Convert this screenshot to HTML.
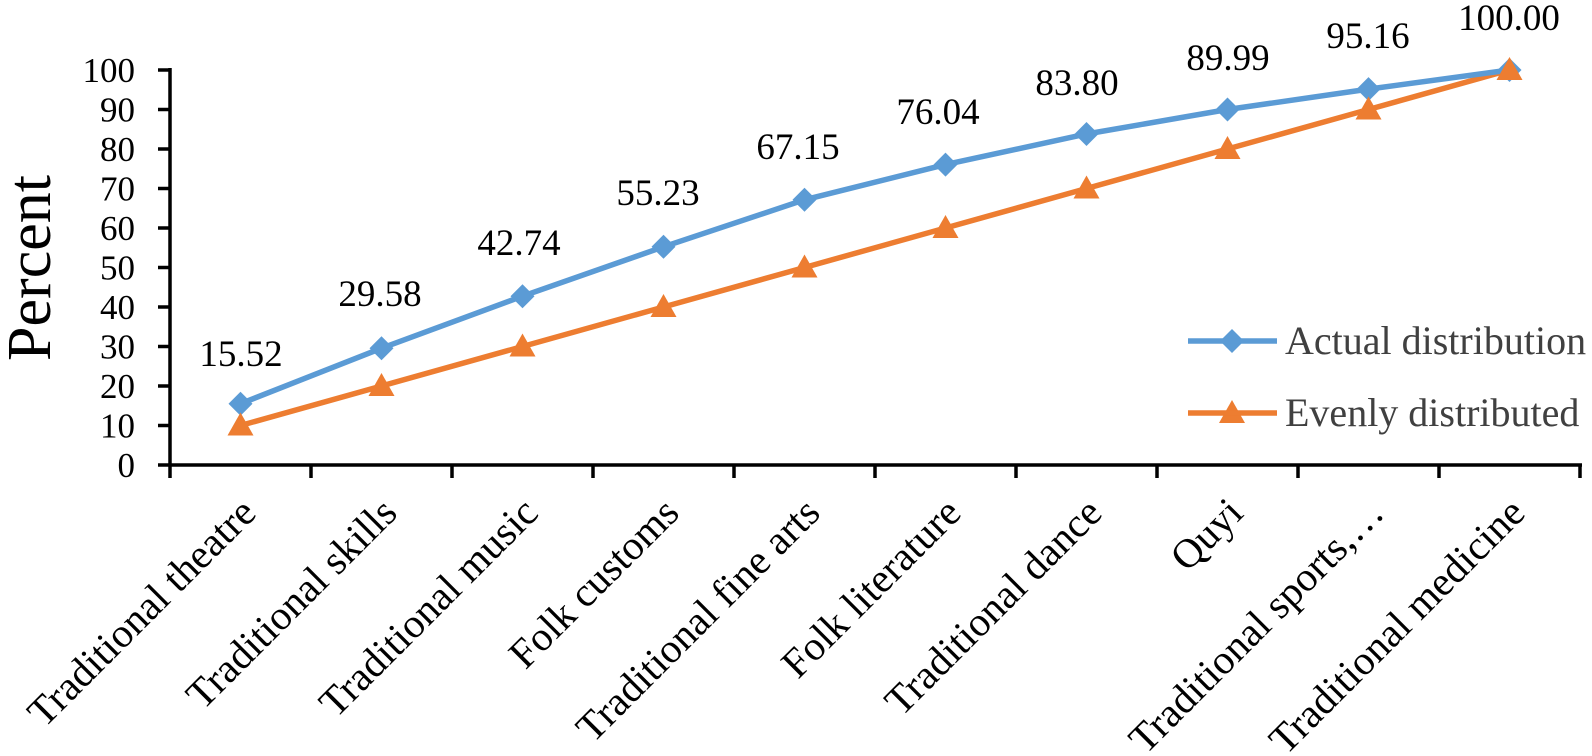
<!DOCTYPE html>
<html><head><meta charset="utf-8"><style>
html,body{margin:0;padding:0;background:#fff;}
svg{display:block;}
text{font-family:"Liberation Serif",serif;}
</style></head><body>
<svg width="1592" height="756" viewBox="0 0 1592 756" xmlns="http://www.w3.org/2000/svg">
<g stroke="#000" stroke-width="3.5">
<line x1="170" y1="68" x2="170" y2="466"/>
<line x1="158" y1="465" x2="1582" y2="465"/>
<line x1="158" y1="70" x2="170" y2="70"/><line x1="158" y1="109.5" x2="170" y2="109.5"/><line x1="158" y1="149" x2="170" y2="149"/><line x1="158" y1="188.5" x2="170" y2="188.5"/><line x1="158" y1="228" x2="170" y2="228"/><line x1="158" y1="267.5" x2="170" y2="267.5"/><line x1="158" y1="307" x2="170" y2="307"/><line x1="158" y1="346.5" x2="170" y2="346.5"/><line x1="158" y1="386" x2="170" y2="386"/><line x1="158" y1="425.5" x2="170" y2="425.5"/>
<line x1="170" y1="465" x2="170" y2="478"/><line x1="311" y1="465" x2="311" y2="478"/><line x1="452" y1="465" x2="452" y2="478"/><line x1="593" y1="465" x2="593" y2="478"/><line x1="734" y1="465" x2="734" y2="478"/><line x1="875" y1="465" x2="875" y2="478"/><line x1="1016" y1="465" x2="1016" y2="478"/><line x1="1157" y1="465" x2="1157" y2="478"/><line x1="1298" y1="465" x2="1298" y2="478"/><line x1="1439" y1="465" x2="1439" y2="478"/><line x1="1580" y1="465" x2="1580" y2="478"/>
</g>
<g font-size="35" text-anchor="end" fill="#000">
<text x="135" y="82">100</text><text x="135" y="121.5">90</text><text x="135" y="161">80</text><text x="135" y="200.5">70</text><text x="135" y="240">60</text><text x="135" y="279.5">50</text><text x="135" y="319">40</text><text x="135" y="358.5">30</text><text x="135" y="398">20</text><text x="135" y="437.5">10</text><text x="135" y="477">0</text>
</g>
<text transform="translate(50,268) rotate(-90)" font-size="62" text-anchor="middle">Percent</text>
<polyline fill="none" stroke="#ED7D31" stroke-width="5.5" points="240.5,425.5 381.5,386 522.5,346.5 663.5,307 804.5,267.5 945.5,228 1086.5,188.5 1227.5,149 1368.5,109.5 1509.5,70"/>
<polyline fill="none" stroke="#5B9BD5" stroke-width="5.5" points="240.5,403.7 381.5,348.2 522.5,296.2 663.5,246.8 804.5,199.8 945.5,164.6 1086.5,134 1227.5,109.5 1368.5,89.1 1509.5,70"/>
<g fill="#5B9BD5">
<path d="M240.5,391.7 l12,12 -12,12 -12,-12z"/><path d="M381.5,336.2 l12,12 -12,12 -12,-12z"/><path d="M522.5,284.2 l12,12 -12,12 -12,-12z"/><path d="M663.5,234.8 l12,12 -12,12 -12,-12z"/><path d="M804.5,187.8 l12,12 -12,12 -12,-12z"/><path d="M945.5,152.6 l12,12 -12,12 -12,-12z"/><path d="M1086.5,122 l12,12 -12,12 -12,-12z"/><path d="M1227.5,97.5 l12,12 -12,12 -12,-12z"/><path d="M1368.5,77.1 l12,12 -12,12 -12,-12z"/><path d="M1509.5,58 l12,12 -12,12 -12,-12z"/>
<path d="M1232,329 l12,12 -12,12 -12,-12z"/>
</g>
<g fill="#ED7D31">
<path d="M240.5,412.5 l13,23 h-26z"/><path d="M381.5,373 l13,23 h-26z"/><path d="M522.5,333.5 l13,23 h-26z"/><path d="M663.5,294 l13,23 h-26z"/><path d="M804.5,254.5 l13,23 h-26z"/><path d="M945.5,215 l13,23 h-26z"/><path d="M1086.5,175.5 l13,23 h-26z"/><path d="M1227.5,136 l13,23 h-26z"/><path d="M1368.5,96.5 l13,23 h-26z"/><path d="M1509.5,57 l13,23 h-26z"/>
<path d="M1232,400 l13,23 h-26z"/>
</g>
<line x1="1188" y1="341" x2="1277" y2="341" stroke="#5B9BD5" stroke-width="5.5"/>
<line x1="1188" y1="413" x2="1277" y2="413" stroke="#ED7D31" stroke-width="5.5"/>
<g font-size="40" fill="#404040">
<text x="1285" y="354">Actual distribution</text>
<text x="1285" y="426">Evenly distributed</text>
</g>
<g font-size="37" text-anchor="middle" fill="#000">
<text x="241" y="366">15.52</text><text x="380" y="306">29.58</text><text x="519" y="255">42.74</text><text x="658" y="205">55.23</text><text x="798" y="159">67.15</text><text x="938" y="124">76.04</text><text x="1077" y="95">83.80</text><text x="1228" y="70">89.99</text><text x="1368" y="48">95.16</text><text x="1509" y="30">100.00</text>
</g>
<g font-size="41" text-anchor="end" fill="#000">
<text transform="translate(258,515) rotate(-45)">Traditional theatre</text>
<text transform="translate(399,515) rotate(-45)">Traditional skills</text>
<text transform="translate(540,515) rotate(-45)">Traditional music</text>
<text transform="translate(681,515) rotate(-45)">Folk customs</text>
<text transform="translate(822,515) rotate(-45)">Traditional fine arts</text>
<text transform="translate(963,515) rotate(-45)">Folk literature</text>
<text transform="translate(1104,515) rotate(-45)">Traditional dance</text>
<text transform="translate(1245,515) rotate(-45)">Quyi</text>
<text transform="translate(1386,515) rotate(-45)">Traditional sports,…</text>
<text transform="translate(1527,515) rotate(-45)">Traditional medicine</text>
</g>
</svg>
</body></html>
